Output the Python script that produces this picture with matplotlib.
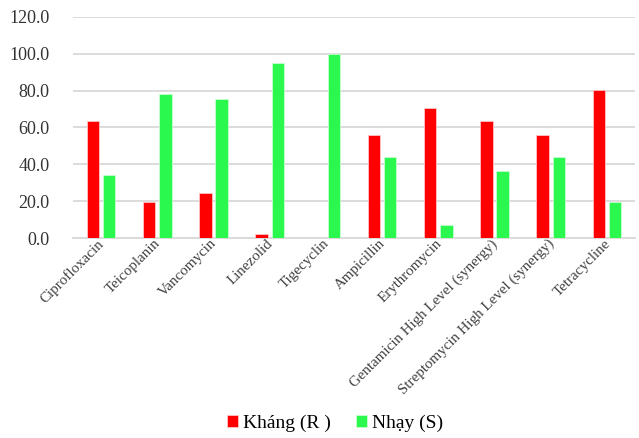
import numpy as np
import matplotlib
matplotlib.use('Agg')
import matplotlib.pyplot as plt
import matplotlib.transforms as mtransforms

# Data (percent)
drugs = ['Ciprofloxacin', 'Teicoplanin', 'Vancomycin', 'Linezolid', 'Tigecyclin',
         'Ampicillin', 'Erythromycin', 'Gentamicin High Level (synergy)',
         'Streptomycin High Level (synergy)', 'Tetracycline']
khang = [63.4, 19.5, 24.4, 2.4, 0.0, 56.1, 70.7, 63.4, 56.1, 80.5]
nhay = [34.1, 78.0, 75.6, 95.1, 100.0, 43.9, 7.3, 36.6, 43.9, 19.5]
yticks = [0, 20, 40, 60, 80, 100, 120]

plt.rcParams['font.family'] = ['Liberation Serif', 'DejaVu Serif']

fig = plt.figure(figsize=(6.39, 4.38), dpi=100)
ax = fig.add_axes([0.1142, 0.456, 0.8795, 0.506])

x = np.arange(len(drugs))
w = 0.22
ax.bar(x - 0.145, khang, w, color='#FF0000', edgecolor='#FFD0D0', linewidth=0.5,
       label='Kháng (R )', zorder=3)
ax.bar(x + 0.145, nhay, w, color='#2BF84F', edgecolor='#D0FFD8', linewidth=0.5,
       label='Nhạy (S)', zorder=3)

ax.set_xlim(-0.5, len(drugs) - 0.5)
ax.set_ylim(0, 120)
ax.set_yticks(yticks)
ax.set_yticklabels(['%.1f' % v for v in yticks], fontsize=13, color='#333333')
ax.set_xticks(x)
ax.set_xticklabels(drugs, rotation=45, ha='right', fontsize=10.8, color='#404040')
ax.tick_params(axis='both', length=0)
ax.tick_params(axis='y', pad=17)
ax.tick_params(axis='x', pad=-1)

# nudge the rotated labels a bit to the right
shift = mtransforms.ScaledTranslation(6 / 100, 0, fig.dpi_scale_trans)
for lab in ax.get_xticklabels():
    lab.set_transform(lab.get_transform() + shift)

ax.grid(axis='y', color='#D9D9D9', linewidth=1.3, zorder=0)
for s in ['top', 'right', 'left']:
    ax.spines[s].set_visible(False)
ax.spines['bottom'].set_color('#D9D9D9')
ax.spines['bottom'].set_linewidth(1.3)

fig.legend(loc='center', bbox_to_anchor=(335 / 639, 1 - 423 / 438), ncol=2,
           frameon=False, fontsize=14, handlelength=0.55, handleheight=0.55,
           handletextpad=0.25, columnspacing=1.3)

fig.savefig('out.png', dpi=100)
